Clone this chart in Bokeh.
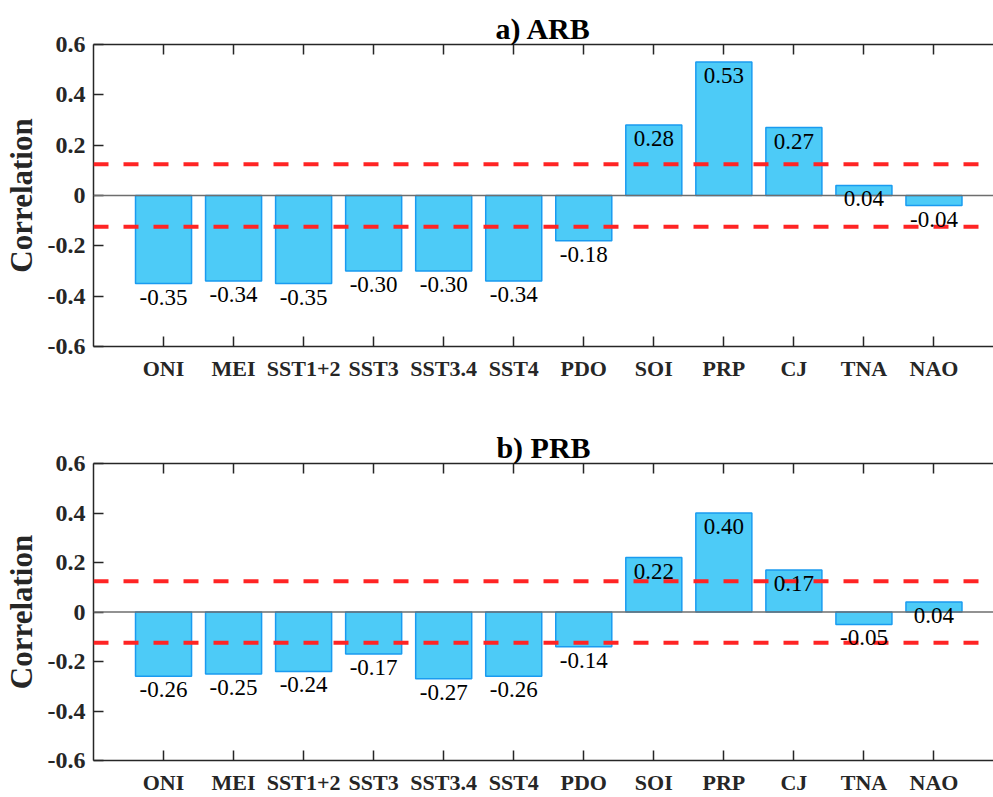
from bokeh.plotting import figure
from bokeh.models import (ColumnDataSource, Span, LabelSet, FixedTicker,
                          CustomJSTickFormatter, LinearAxis, Range1d)
from bokeh.layouts import column
from bokeh.embed import file_html
from bokeh.resources import INLINE

categories = ["ONI", "MEI", "SST1+2", "SST3", "SST3.4", "SST4", "PDO",
              "SOI", "PRP", "CJ", "TNA", "NAO"]
arb_values = [-0.35, -0.34, -0.35, -0.30, -0.30, -0.34, -0.18,
              0.28, 0.53, 0.27, 0.04, -0.04]
prb_values = [-0.26, -0.25, -0.24, -0.17, -0.27, -0.26, -0.14,
              0.22, 0.40, 0.17, -0.05, 0.04]
panel_titles = ["a) ARB", "b) PRB"]
y_ticks = [-0.6, -0.4, -0.2, 0, 0.2, 0.4, 0.6]
significance = 0.124

FONT = "Liberation Serif"
AXC = "#262626"


def make_panel(title, values, height, border_top, border_bottom):
    pos = list(range(1, len(categories) + 1))
    src = ColumnDataSource(dict(x=pos, v=values,
                                lab=[f"{v:.2f}" for v in values]))
    p = figure(width=993, height=height,
               x_range=Range1d(0, 12.85), y_range=Range1d(-0.6, 0.6),
               output_backend="svg", toolbar_location=None,
               min_border_left=89, min_border_right=0,
               min_border_top=border_top, min_border_bottom=border_bottom,
               title=title)
    p.outline_line_color = None
    p.background_fill_color = "white"
    p.border_fill_color = "white"
    p.xgrid.visible = False
    p.ygrid.visible = False

    p.title.text_font = FONT
    p.title.text_font_style = "bold"
    p.title.text_font_size = "30px"
    p.title.text_color = "black"
    p.title.align = "center"
    p.title.standoff = 0

    p.vbar(x="x", top="v", bottom=0, width=0.8, source=src,
           fill_color="#4DCBF7", line_color="#1A9BF0", line_width=1.5)

    # y axis
    ya = p.yaxis[0]
    ya.ticker = FixedTicker(ticks=y_ticks)
    ya.formatter = CustomJSTickFormatter(
        code="return Math.abs(tick) < 1e-9 ? '0' : tick.toFixed(1);")
    ya.major_tick_in = 10
    ya.major_tick_out = 0
    ya.minor_tick_in = 0
    ya.minor_tick_out = 0
    ya.major_label_standoff = 8
    ya.axis_line_color = AXC
    ya.axis_line_width = 1.5
    ya.major_tick_line_color = AXC
    ya.major_tick_line_width = 1.5
    ya.major_label_text_font = FONT
    ya.major_label_text_font_style = "bold"
    ya.major_label_text_font_size = "24px"
    ya.major_label_text_color = AXC
    ya.axis_label = "Correlation"
    ya.axis_label_text_font = FONT
    ya.axis_label_text_font_style = "bold"
    ya.axis_label_text_font_size = "31px"
    ya.axis_label_text_color = AXC
    ya.axis_label_standoff = 6

    # x axis
    xa = p.xaxis[0]
    xa.ticker = FixedTicker(ticks=pos)
    xa.formatter = CustomJSTickFormatter(
        args=dict(names=categories),
        code="return names[Math.round(tick) - 1] || '';")
    xa.major_tick_in = 10
    xa.major_tick_out = 0
    xa.minor_tick_in = 0
    xa.minor_tick_out = 0
    xa.major_label_standoff = 9
    xa.axis_line_color = AXC
    xa.axis_line_width = 1.5
    xa.major_tick_line_color = AXC
    xa.major_tick_line_width = 1.5
    xa.major_label_text_font = FONT
    xa.major_label_text_font_style = "bold"
    xa.major_label_text_font_size = "22px"
    xa.major_label_text_color = AXC

    top = LinearAxis(ticker=FixedTicker(ticks=pos),
                     formatter=CustomJSTickFormatter(code="return '';"),
                     major_tick_in=10, major_tick_out=0,
                     minor_tick_in=0, minor_tick_out=0,
                     major_label_standoff=0,
                     major_label_text_font_size="0px",
                     axis_line_color=AXC, axis_line_width=1.5,
                     major_tick_line_color=AXC, major_tick_line_width=1.5)
    p.add_layout(top, "above")

    p.add_layout(Span(location=0, dimension="width",
                      line_color="#6e6e6e", line_width=1.5))
    for s in (significance, -significance):
        p.add_layout(Span(location=s, dimension="width",
                          line_color="#FF2424", line_width=4,
                          line_dash="15 15"))

    p.add_layout(LabelSet(x="x", y="v", text="lab", source=src,
                          text_align="center", text_baseline="top",
                          y_offset=-6,
                          text_font=FONT, text_font_size="23px",
                          text_color="black"))
    return p


pa = make_panel(panel_titles[0], arb_values, 420, 44, 74)
pb = make_panel(panel_titles[1], prb_values, 377, 43, 32)
layout = column(pa, pb, spacing=0)

open("out.html", "w").write(file_html(layout, INLINE))
